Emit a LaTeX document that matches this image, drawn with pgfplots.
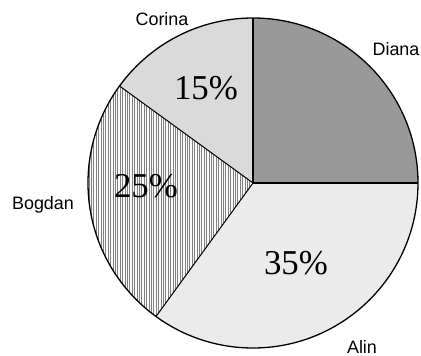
\documentclass[border=0pt]{standalone}
\usepackage{pgfplots}
\pgfplotsset{compat=1.18}
\usepackage{pgfplotstable}
\usepackage{fontspec}
\setmainfont{Liberation Serif}
\newfontfamily\arial{Liberation Sans}
\usetikzlibrary{patterns.meta}
\definecolor{dianaC}{HTML}{999999}
\definecolor{alinC}{HTML}{EBEBEB}
\definecolor{bogdanC}{HTML}{FAFAFA}
\definecolor{corinaC}{HTML}{DADADA}
\pgfplotstableread{
name   value
Diana  25
Alin   35
Bogdan 25
Corina 15
}\piedata
\begin{document}
\begin{tikzpicture}
\begin{axis}[x=1bp,y=1bp,xmin=0,xmax=421,ymin=0,ymax=356,hide axis,clip=false,
  scale only axis]
\path (axis cs:0,0) rectangle (axis cs:421,356);
\pgfplotstablegetelem{0}{value}\of\piedata \let\vA\pgfplotsretval
\pgfplotstablegetelem{1}{value}\of\piedata \let\vB\pgfplotsretval
\pgfplotstablegetelem{2}{value}\of\piedata \let\vC\pgfplotsretval
\pgfplotstablegetelem{3}{value}\of\piedata \let\vD\pgfplotsretval
\pgfmathsetmacro\aA{90}
\pgfmathsetmacro\aB{\aA-3.6*\vA}
\pgfmathsetmacro\aC{\aB-3.6*\vB}
\pgfmathsetmacro\aD{\aC-3.6*\vC}
\pgfmathsetmacro\aE{\aD-3.6*\vD}
% Diana
\fill[dianaC] (axis cs:253,173) -- ++(\aA:165bp) arc[start angle=\aA,end angle=\aB,radius=165bp] -- cycle;
% Alin
\fill[alinC] (axis cs:253,173) -- ++(\aB:165bp) arc[start angle=\aB,end angle=\aC,radius=165bp] -- cycle;
% Bogdan
\fill[bogdanC] (axis cs:253,173) -- ++(\aC:165bp) arc[start angle=\aC,end angle=\aD,radius=165bp] -- cycle;
\fill[pattern={Lines[angle=90,distance=2.4bp,line width=0.35bp]},pattern color=black!50] (axis cs:253,173) -- ++(\aC:165bp) arc[start angle=\aC,end angle=\aD,radius=165bp] -- cycle;
% Corina
\fill[corinaC] (axis cs:253,173) -- ++(\aD:165bp) arc[start angle=\aD,end angle=\aE,radius=165bp] -- cycle;
% outlines
\draw[line width=1.3bp] (axis cs:253,173) circle[radius=165bp];
\draw[line width=1bp] (axis cs:253,173) -- ++(\aC:165bp);
\draw[line width=1bp] (axis cs:253,173) -- ++(\aD:165bp);
\draw[line width=1.6bp] (axis cs:253,173) -- ++(\aE:165bp);
\draw[line width=1.6bp] (axis cs:253,173) -- ++(\aB:165bp);
% labels
\node[anchor=base,font=\arial\fontsize{18}{20}\selectfont,inner sep=0] at (axis cs:162,331) {Corina};
\node[anchor=base,font=\arial\fontsize{18}{20}\selectfont,inner sep=0] at (axis cs:396,301) {Diana};
\node[anchor=base,font=\arial\fontsize{18}{20}\selectfont,inner sep=0] at (axis cs:43,147) {Bogdan};
\node[anchor=base,font=\arial\fontsize{18}{20}\selectfont,inner sep=0] at (axis cs:362,3) {Alin};
\node[anchor=base,font=\fontsize{35}{38}\selectfont,inner sep=0] at (axis cs:206,257) {15\%};
\node[anchor=base,font=\fontsize{35}{38}\selectfont,inner sep=0] at (axis cs:146,159) {25\%};
\node[anchor=base,font=\fontsize{35}{38}\selectfont,inner sep=0] at (axis cs:296,82) {35\%};
\end{axis}
\end{tikzpicture}
\end{document}
